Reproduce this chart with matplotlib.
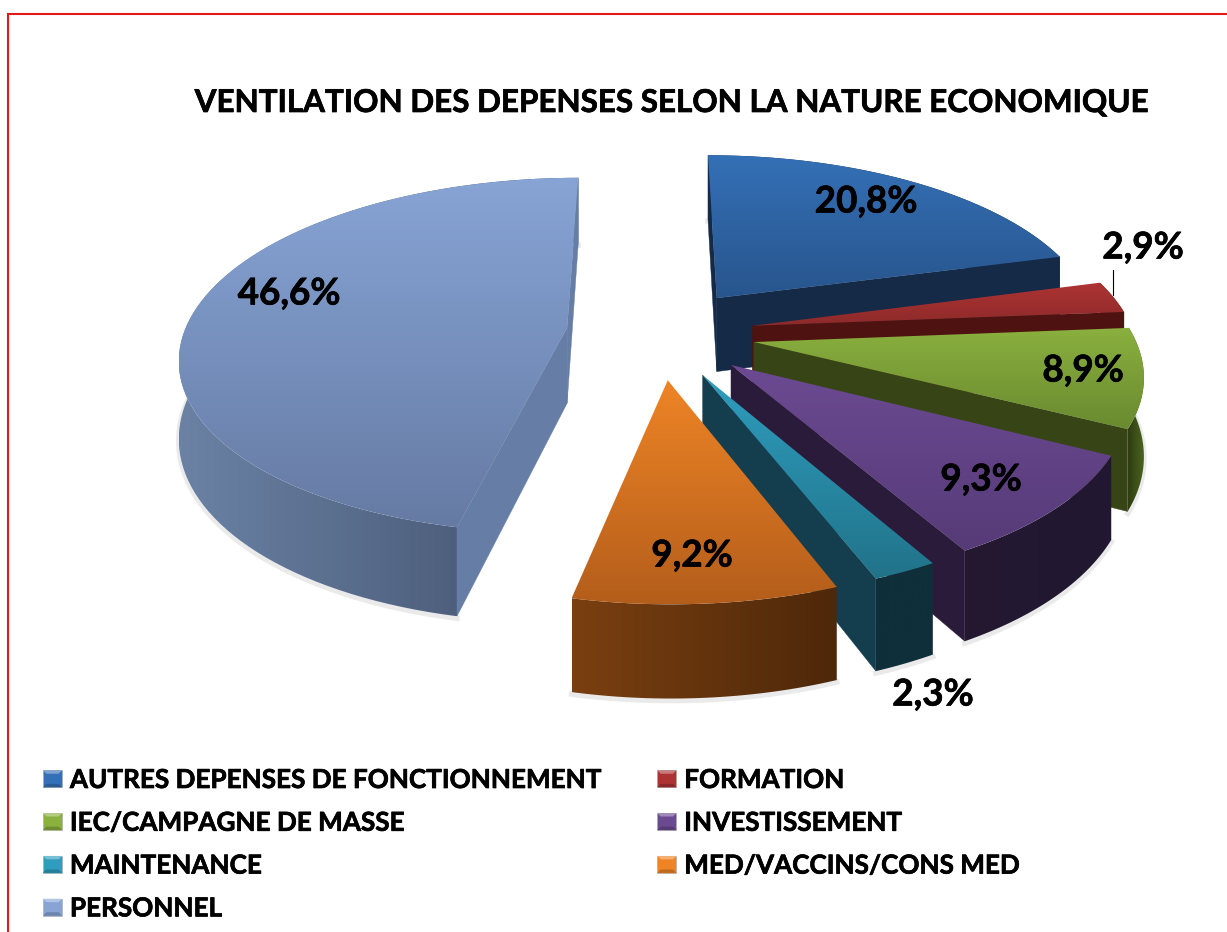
import numpy as np
import matplotlib
matplotlib.use("Agg")
import matplotlib.pyplot as plt
import matplotlib.patheffects as pe
from matplotlib.patches import Polygon, Rectangle, Patch
from matplotlib.legend_handler import HandlerBase
from matplotlib.colors import to_rgb

# ---- data
categories = ["AUTRES DEPENSES DE FONCTIONNEMENT", "FORMATION", "IEC/CAMPAGNE DE MASSE",
              "INVESTISSEMENT", "MAINTENANCE", "MED/VACCINS/CONS MED", "PERSONNEL"]
values = [20.8, 2.9, 8.9, 9.3, 2.3, 9.2, 46.6]
value_labels = ["20,8%", "2,9%", "8,9%", "9,3%", "2,3%", "9,2%", "46,6%"]
title = "VENTILATION DES DEPENSES SELON LA NATURE ECONOMIQUE"

# ---- styling: explosion of each slice on the pie's plane, and its drawn radius
explode_x = [0.178, 0.266, 0.266, 0.2034, 0.131, 0.044, -0.215]
explode_y = [0.299, 0.136, 0.044, -0.0813, -0.135, -0.162, 0.125]
radius = [0.992, 0.985, 0.98, 0.98, 0.975, 0.98, 0.99]
top_cols = [("#3470B6", "#28558D"), ("#AD3333", "#8E2A2A"), ("#8AB03E", "#6A8A30"),
            ("#6C4A92", "#563B78"), ("#2E9DBE", "#217389"), ("#EE8426", "#B45E1B"),
            ("#87A4D5", "#667BA4")]
cut_cols = ["#152A47", "#4E1211", "#374516", "#2A1B3A", "#143E4D", "#143E4D", "#667EA6"]
rim_cols = [("#152A47", "#152A47"), ("#4E1211", "#4E1211"), ("#2F3D13", "#4C6620"),
            ("#251932", "#211730"), ("#0F2F3A", "#0F2F3A"), ("#7A3F10", "#4E280A"),
            ("#6B82A5", "#41506B")]
label_xy = [(866, 202), (1143, 248), (1083, 371), (981, 480), (933, 695), (692, 556), (289, 294)]

CX, CY, F, G, K, DEPTH = 650, 350, 393, 182, 0.16, 77
BOLD = [pe.withStroke(linewidth=0.5, foreground="black")]


def project(X, Y):
    d = 1 + K * np.asarray(Y)
    return CX + F * np.asarray(X) / d, CY - G * np.asarray(Y) / d, DEPTH / d


fig = plt.figure(figsize=(12.27, 9.32), dpi=100, facecolor="white")
ax = fig.add_axes([0, 0, 1, 1])
ax.set_xlim(0, 1227)
ax.set_ylim(932, 0)
ax.axis("off")
plt.rcParams["font.family"] = ["Lato", "DejaVu Sans"]

zo = [2]


def grad_fill(pts, c0, c1, vertical=True):
    pts = np.asarray(pts)
    x0, y0 = pts.min(axis=0)
    x1, y1 = pts.max(axis=0)
    t = np.linspace(0, 1, 64)[:, None]
    col = (1 - t) * np.array(to_rgb(c0)) + t * np.array(to_rgb(c1))
    img = col[:, None, :] if vertical else col[None, :, :]
    im = ax.imshow(img, extent=(x0, x1, y1, y0), origin="upper", aspect="auto",
                   interpolation="bilinear", zorder=zo[0])
    im.set_clip_path(Polygon(pts, closed=True, transform=ax.transData))
    zo[0] += 1


bounds = np.concatenate([[0], np.cumsum(values)]) * 3.6
for i in range(len(values)):
    th = np.radians(np.linspace(bounds[i], bounds[i + 1], 90))
    ax0, ay0, r = explode_x[i], explode_y[i], radius[i]
    rx, ry, rd = project(ax0 + r * np.sin(th), ay0 + r * np.cos(th))
    px, py, pd = project(ax0, ay0)
    # soft shadow below the outer wall
    ax.plot(rx, ry + rd + 2, color="#808080", lw=4, alpha=0.16, zorder=zo[0])
    zo[0] += 1
    # outer wall
    wall = np.column_stack([np.r_[rx, rx[::-1]], np.r_[ry, (ry + rd)[::-1]]])
    grad_fill(wall, rim_cols[i][0], rim_cols[i][1], vertical=False)
    # flat cut walls, only those that face the viewer
    start_vis = np.sin(th[0]) < -1e-6 or abs(np.sin(th[0])) < 1e-6
    end_vis = np.sin(th[-1]) > 1e-6 or abs(np.sin(th[-1])) < 1e-6
    for vis, k in ((start_vis, 0), (end_vis, -1)):
        if vis:
            ax.fill([px, rx[k], rx[k], px], [py, ry[k], ry[k] + rd[k], py + pd],
                    color=cut_cols[i], lw=0.3, zorder=zo[0])
            zo[0] += 1
    # top face
    top = np.column_stack([np.r_[px, rx], np.r_[py, ry]])
    grad_fill(top, top_cols[i][0], top_cols[i][1])

ax.plot([1113, 1113], [270, 295], color="black", lw=0.8, zorder=zo[0])
for lab, (x, y) in zip(value_labels, label_xy):
    ax.text(x, y, lab, ha="center", va="center", fontsize=26.5, fontweight="bold",
            color="black", zorder=zo[0] + 1, path_effects=BOLD)

ax.text(671, 103, title, ha="center", va="center", fontsize=22.6, fontweight="bold",
        color="black", path_effects=BOLD)

# red frame
ax.plot([8, 8, 1227], [932, 14, 14], color="#E3171C", lw=1.5, zorder=1, solid_joinstyle="miter")


class BevelHandler(HandlerBase):
    def create_artists(self, legend, orig, xd, yd, w, h, fs, trans):
        c = np.array(to_rgb(orig.get_facecolor()))
        light = c + (1 - c) * 0.35
        dark = c * 0.8
        i = min(w, h) * 0.2
        base = Rectangle((-xd, -yd), w, h, fc=c, ec="#a8a8a8", lw=0.4, transform=trans)
        tp = Polygon([(-xd, h - yd), (w - xd, h - yd), (w - xd - i, h - yd - i), (-xd + i, h - yd - i)],
                     fc=light, ec="none", transform=trans)
        bt = Polygon([(-xd, -yd), (w - xd, -yd), (w - xd - i, -yd + i), (-xd + i, -yd + i)],
                     fc=dark, ec="none", transform=trans)
        return [base, tp, bt]


order = [0, 2, 4, 6, 1, 3, 5]
handles = [Patch(facecolor=top_cols[j][0], label=categories[j]) for j in order]
leg = ax.legend(handles=handles, ncol=2, loc="upper left", bbox_to_anchor=(43 / 1227, 1 - 768 / 932),
                frameon=False, prop={"size": 18.8, "weight": "bold"}, handlelength=0.73, handleheight=0.62,
                handletextpad=0.3, labelspacing=0.72, columnspacing=2.07, borderpad=0, borderaxespad=0,
                handler_map={Patch: BevelHandler()})
for t in leg.get_texts():
    t.set_path_effects(BOLD)

fig.savefig("out.png", dpi=100, facecolor="white")
